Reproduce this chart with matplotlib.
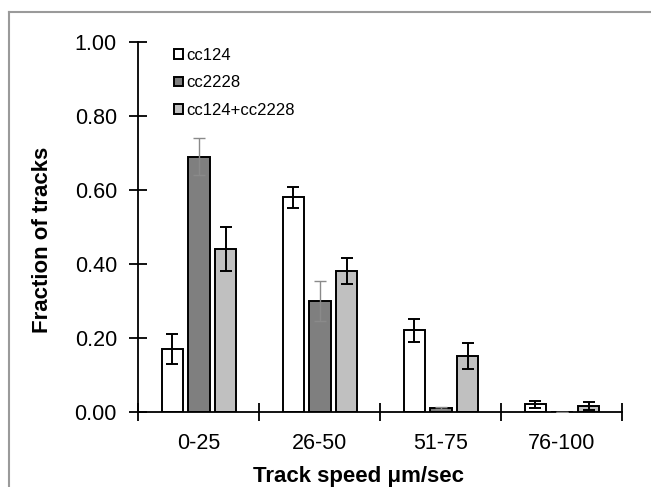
import numpy as np
import matplotlib
matplotlib.use('Agg')
import matplotlib.pyplot as plt
from matplotlib.lines import Line2D

plt.rcParams['font.family'] = ['Liberation Sans', 'DejaVu Sans']

# Data
categories = ['0-25', '26-50', '51-75', '76-100']
series_names = ['cc124', 'cc2228', 'cc124+cc2228']
cc124 = [0.17, 0.58, 0.22, 0.02]
cc124_err = [0.04, 0.028, 0.03, 0.01]
cc2228 = [0.69, 0.30, 0.01, 0.0]
cc2228_err = [0.05, 0.055, 0.003, 0.0]
mix = [0.44, 0.38, 0.15, 0.015]
mix_err = [0.06, 0.035, 0.035, 0.01]

fills = ['white', '#7f7f7f', '#c0c0c0']
err_colors = ['black', '#8a8a8a', 'black']

fig = plt.figure(figsize=(6.51, 4.87), dpi=100)
ax = fig.add_axes([0.2127, 0.1546, 0.9562 - 0.2127, 0.9131 - 0.1546])

x = np.arange(len(categories))
step = 0.22
width = 0.178
handles = []
for i, (vals, errs) in enumerate([(cc124, cc124_err), (cc2228, cc2228_err), (mix, mix_err)]):
    pos = x + (i - 1) * step
    b = ax.bar(pos, vals, width, color=fills[i], edgecolor='black', linewidth=1.4,
               label=series_names[i], zorder=2)
    handles.append(b)
    ax.errorbar(pos, vals, yerr=errs, fmt='none', ecolor=err_colors[i],
                elinewidth=1.4 if i != 1 else 1.0, capsize=4.5,
                capthick=1.4 if i != 1 else 1.0, zorder=3)

ax.set_xlim(-0.5, len(categories) - 0.5)
ax.set_ylim(0, 1.0)

ax.spines['top'].set_visible(False)
ax.spines['right'].set_visible(False)
ax.spines['left'].set_linewidth(1.3)
ax.spines['bottom'].set_linewidth(1.3)

ax.set_yticks(np.arange(0, 1.01, 0.2))
ax.set_yticklabels(['%.2f' % v for v in np.arange(0, 1.01, 0.2)])
ax.tick_params(axis='y', direction='inout', length=13, width=1.3, labelsize=15.5, pad=9)

# category boundaries as major ticks, names as minor ticks
ax.set_xticks(np.arange(-0.5, len(categories), 1.0))
ax.set_xticklabels([])
ax.set_xticks(x, minor=True)
ax.set_xticklabels(categories, minor=True)
ax.tick_params(axis='x', which='major', direction='inout', length=13, width=1.3)
ax.tick_params(axis='x', which='minor', length=0, labelsize=15.5, pad=15)

ax.set_ylabel('Fraction of tracks', fontsize=16, fontweight='bold')
ax.yaxis.set_label_coords(-0.176, 0.465)
ax.set_xlabel('Track speed \u03bcm/sec', fontsize=16, fontweight='bold')
ax.xaxis.set_label_coords(0.455, -0.147)

ax.legend(handles=handles, loc='upper left', bbox_to_anchor=(0.06, 1.003), frameon=False,
          fontsize=12, handlelength=0.5, handleheight=0.5, handletextpad=0.25,
          labelspacing=0.75, borderaxespad=0)

# grey frame on the left and top of the picture
fig.add_artist(Line2D([8.5 / 651, 8.5 / 651], [0, 1 - 12.3 / 487], color='#9a9a9a', lw=1.5))
fig.add_artist(Line2D([8.5 / 651, 1], [1 - 12.3 / 487, 1 - 12.3 / 487], color='#9a9a9a', lw=1.5))

fig.savefig('out.png', dpi=100)
